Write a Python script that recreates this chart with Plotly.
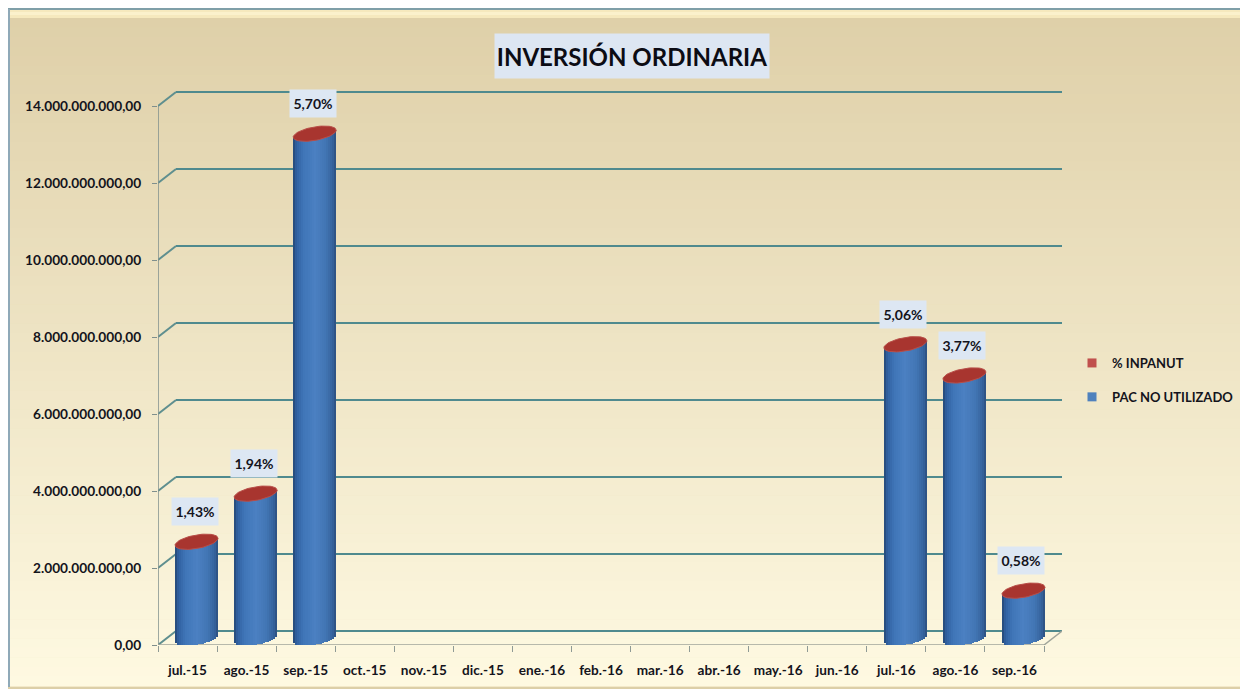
import numpy as np
import plotly.graph_objects as go

# ---- data ----
months = ["jul.-15", "ago.-15", "sep.-15", "oct.-15", "nov.-15", "dic.-15", "ene.-16", "feb.-16",
          "mar.-16", "abr.-16", "may.-16", "jun.-16", "jul.-16", "ago.-16", "sep.-16"]
pac_no_utilizado = [2.50e9, 3.75e9, 13.10e9, None, None, None, None, None, None, None, None, None,
                    7.63e9, 6.82e9, 1.23e9]
inpanut_labels = ["1,43%", "1,94%", "5,70%", None, None, None, None, None, None, None, None, None,
                  "5,06%", "3,77%", "0,58%"]
title_text = "INVERSIÓN ORDINARIA"
y_ticks = [0, 2e9, 4e9, 6e9, 8e9, 10e9, 12e9, 14e9]

# ---- geometry: pixel layout of the pseudo-3D box ----
W, H = 1240, 690
L, R, T, B = 158, 1062, 90, 645          # plot rectangle in page pixels
PX_CAT = (1044 - 158) / 15               # px per category
Y_MAX = 14.416e9
PX_VAL = (B - T) / Y_MAX                 # px per value unit
DX, DY = 18 / PX_CAT, 14 / PX_VAL        # depth vector in data units
X_MIN, X_MAX = -0.5, 14.5 + DX

CYL_W = 43 / PX_CAT
MID_X = DX / 2                           # cylinder centre sits half way into the box
MID_Y = DY / 2
SHEAR = 3.5 / PX_VAL                     # tilt of the elliptical ends
MINOR = 6.8 / PX_VAL
GREY_FONT = "#14141c"
FONT = "Lato"


def px(x):
    return (x - L) / (R - L)


def py(y):
    return (B - y) / (B - T)


shapes = []

# panel background: frame, highlight and vertical gradient (decoration, paper coordinates)
shapes.append(dict(type="rect", xref="paper", yref="paper", x0=px(8), x1=px(1240), y0=py(8), y1=py(689),
                   fillcolor="#E9D9B0", line_width=0, layer="below"))
top, bot = np.array([0xDF, 0xD0, 0xA9]), np.array([0xFE, 0xF9, 0xE1])
N_BG = 70
y0, y1 = 18, 686
for k in range(N_BG):
    f = k / (N_BG - 1)
    c = top + (bot - top) * f
    shapes.append(dict(type="rect", xref="paper", yref="paper", x0=px(10), x1=px(1240),
                       y0=py(y0 + (y1 - y0) * k / N_BG), y1=py(y0 + (y1 - y0) * (k + 1) / N_BG + 0.5),
                       fillcolor=f"rgb({c[0]:.0f},{c[1]:.0f},{c[2]:.0f})", line_width=0, layer="below"))
shapes.append(dict(type="rect", xref="paper", yref="paper", x0=px(10), x1=px(1240), y0=py(10), y1=py(18),
                   fillcolor="#F6E9BE", line_width=0, layer="below"))
shapes.append(dict(type="rect", xref="paper", yref="paper", x0=px(10), x1=px(1240), y0=py(12), y1=py(15),
                   fillcolor="#FBF1CC", line_width=0, layer="below"))
shapes.append(dict(type="line", xref="paper", yref="paper", x0=px(8), x1=px(1240), y0=py(9), y1=py(9),
                   line=dict(color="#7F9FA8", width=2), layer="below"))
shapes.append(dict(type="line", xref="paper", yref="paper", x0=px(9), x1=px(9), y0=py(9), y1=py(688),
                   line=dict(color="#8FA9B8", width=2), layer="below"))
shapes.append(dict(type="line", xref="paper", yref="paper", x0=px(8), x1=px(1240), y0=py(688), y1=py(688),
                   line=dict(color="#DCCFA8", width=2), layer="below"))


def line(x0, y0, x1, y1, color, width):
    shapes.append(dict(type="line", xref="x", yref="y", x0=x0, y0=y0, x1=x1, y1=y1,
                       line=dict(color=color, width=width), layer="below"))


# box walls built from the axis ticks
for v in y_ticks:
    line(X_MIN, v, X_MIN + DX, v + DY, "#5F8F8F", 2)
    line(X_MIN + DX, v + DY, 14.5 + DX, v + DY, "#4F8A8E", 2)
line(X_MIN, 0, X_MIN, y_ticks[-1], "#7F8F8D", 1.5)
line(X_MIN, 0, 14.5, 0, "#A0A59A", 1.5)
line(14.5, 0, 14.5 + DX, DY, "#A0A59A", 1.5)

fig = go.Figure()

# cylinder bodies: vertical strips of a horizontal gradient, every one a real bar
idx = [i for i, v in enumerate(pac_no_utilizado) if v is not None]
vals = np.array([pac_no_utilizado[i] for i in idx])
stops = [(0.0, (0x24, 0x46, 0x72)), (0.08, (0x30, 0x60, 0xA0)), (0.25, (0x3F, 0x76, 0xB8)),
         (0.5, (0x4B, 0x80, 0xC2)), (0.75, (0x42, 0x76, 0xB4)), (0.92, (0x35, 0x62, 0x9C)),
         (1.0, (0x2C, 0x4E, 0x7C))]
N_STRIP = 21
for k in range(N_STRIP):
    u = (k + 0.5) / N_STRIP
    rgb = [np.interp(u, [s[0] for s in stops], [s[1][c] for s in stops]) for c in range(3)]
    uu = 2 * u - 1
    lower = MID_Y + SHEAR * uu - MINOR * np.sqrt(max(1 - uu * uu, 0))
    upper = vals + MID_Y + SHEAR * uu
    fig.add_trace(go.Bar(x=idx, y=upper - lower, base=[lower] * len(idx),
                         width=CYL_W / N_STRIP,
                         offset=MID_X - CYL_W / 2 + k * CYL_W / N_STRIP,
                         marker=dict(color=f"rgb({rgb[0]:.0f},{rgb[1]:.0f},{rgb[2]:.0f})", line_width=0),
                         showlegend=False, hoverinfo="skip", cliponaxis=False))

# top caps are the % series
t = np.linspace(0, 2 * np.pi, 61)
for i, v in zip(idx, vals):
    cx = i + MID_X + CYL_W / 2 * np.cos(t)
    cy = v + MID_Y + SHEAR * np.cos(t) + MINOR * np.sin(t)
    fig.add_trace(go.Scatter(x=cx, y=cy, mode="lines", fill="toself", fillcolor="#A8352F",
                             line=dict(color="#B84E48", width=1), showlegend=False,
                             hoverinfo="skip", cliponaxis=False))

# legend
fig.add_trace(go.Scatter(x=[None], y=[None], mode="markers", name="% INPANUT", legendgroup="a",
                         marker=dict(symbol="square", size=9, color="#C0504D")))
fig.add_trace(go.Scatter(x=[None], y=[None], mode="markers", name="PAC NO UTILIZADO", legendgroup="b",
                         marker=dict(symbol="square", size=9, color="#4F81BD")))

annotations = [dict(xref="paper", yref="paper", x=px(632), y=py(56), xanchor="center", yanchor="middle",
                    text=title_text, showarrow=False,
                    font=dict(family=FONT, size=24, color="#0C0C14", weight=700),
                    bgcolor="#DDE6F2", width=274, height=44, borderpad=0)]
for i, lab in enumerate(inpanut_labels):
    if lab is None:
        continue
    annotations.append(dict(x=i + MID_X, y=pac_no_utilizado[i] + MID_Y, yshift=30, xshift=-2,
                            xanchor="center", yanchor="middle", text=lab, showarrow=False,
                            font=dict(family=FONT, size=14, color=GREY_FONT, weight=700),
                            bgcolor="#DDE7F3", width=46, height=27, borderpad=0))

fig.update_layout(
    width=W, height=H, autosize=False,
    margin=dict(l=L, r=W - R, t=T, b=H - B, pad=0, autoexpand=False),
    paper_bgcolor="white", plot_bgcolor="rgba(0,0,0,0)",
    separators=",.", barmode="overlay", bargap=0,
    shapes=shapes, annotations=annotations,
    font=dict(family=FONT, color=GREY_FONT),
    legend=dict(x=(1072 - L) / (R - L), xanchor="left", y=py(380), yanchor="middle",
                tracegroupgap=14, bgcolor="rgba(0,0,0,0)",
                font=dict(family=FONT, size=13, color=GREY_FONT, weight=700)),
    xaxis=dict(range=[X_MIN, X_MAX], tickmode="array", tickvals=list(range(15)), ticktext=months,
               showgrid=False, zeroline=False, showline=False, ticks="", ticklabelstandoff=15,
               tickfont=dict(family=FONT, size=13.6, color=GREY_FONT, weight=700), automargin=False,
               minor=dict(tickmode="array", tickvals=[i - 0.5 for i in range(16)], ticks="outside",
                          ticklen=6, tickwidth=1, tickcolor="#8F9A95", showgrid=False)),
    yaxis=dict(range=[0, Y_MAX], tickmode="array", tickvals=y_ticks, tickformat=",.2f",
               showgrid=False, zeroline=False, showline=False, ticks="outside", ticklen=5, tickwidth=1,
               tickcolor="#7F8F8D", ticklabelstandoff=8, automargin=False,
               tickfont=dict(family=FONT, size=13.7, color=GREY_FONT, weight=700)),
)

fig.write_html("out.html", config={"displayModeBar": False})

# the page must carry no body margin or scrollbar, so the 1240x690 figure fills the window
with open("out.html", encoding="utf-8") as fh:
    page = fh.read()
page = page.replace("<body>", '<body style="margin:0;overflow:hidden">', 1)
with open("out.html", "w", encoding="utf-8") as fh:
    fh.write(page)
